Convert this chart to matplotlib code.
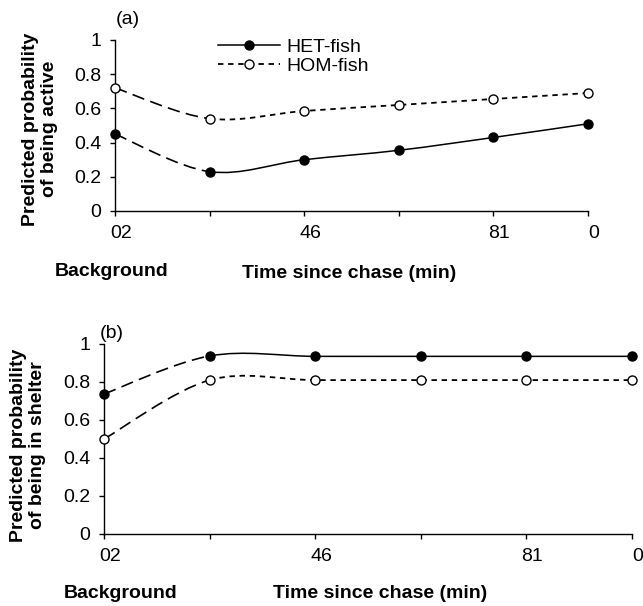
import matplotlib
matplotlib.use('Agg')
import matplotlib.pyplot as plt
import matplotlib.transforms as mtransforms
from matplotlib.path import Path
from matplotlib.patches import PathPatch
from matplotlib.lines import Line2D

plt.rcParams['font.family'] = ['Liberation Sans', 'DejaVu Sans']

# ---------------- data ----------------
categorias = [0, 1, 2, 3, 4, 5]
etiquetasX = ['02', '', '46', '', '81', '0']
etiquetasY = ['0', '0.2', '0.4', '0.6', '0.8', '1']
valoresY = [0, 0.2, 0.4, 0.6, 0.8, 1]

activoHET = [0.45, 0.23, 0.30, 0.355, 0.43, 0.51]
activoHOM = [0.72, 0.54, 0.585, 0.62, 0.655, 0.69]

refugioHET = [0.737, 0.937, 0.935, 0.935, 0.935, 0.935]
refugioHOM = [0.50, 0.81, 0.81, 0.81, 0.81, 0.81]

FS = 14
W, H = 643, 606


def suave(xs, ys, i0, i1):
    # curva suavizada tipo Excel (Catmull-Rom -> Bezier)
    n = len(xs)
    verts = [(xs[i0], ys[i0])]
    codes = [Path.MOVETO]
    for i in range(i0, i1):
        a = max(i - 1, 0)
        b = min(i + 2, n - 1)
        c1 = (xs[i] + (xs[i + 1] - xs[a]) / 6.0, ys[i] + (ys[i + 1] - ys[a]) / 6.0)
        c2 = (xs[i + 1] - (xs[b] - xs[i]) / 6.0, ys[i + 1] - (ys[b] - ys[i]) / 6.0)
        verts += [c1, c2, (xs[i + 1], ys[i + 1])]
        codes += [Path.CURVE4] * 3
    return Path(verts, codes)


def panel(ax, het, hom):
    n = len(categorias)
    larga = (0, (7.5, 3.8))
    punto = (0, (3.0, 2.6))
    ax.add_patch(PathPatch(suave(categorias, het, 0, 1), fill=False, lw=1.2,
                           linestyle=larga, edgecolor='black'))
    ax.add_patch(PathPatch(suave(categorias, hom, 0, 1), fill=False, lw=1.2,
                           linestyle=larga, edgecolor='black'))
    ax.add_patch(PathPatch(suave(categorias, het, 1, n - 1), fill=False, lw=1.1,
                           linestyle='-', edgecolor='black'))
    ax.add_patch(PathPatch(suave(categorias, hom, 1, n - 1), fill=False, lw=1.3,
                           linestyle=punto, edgecolor='black'))
    ax.plot(categorias, het, 'o', color='black', markersize=6.5, zorder=5, clip_on=False)
    ax.plot(categorias, hom, 'o', markerfacecolor='white', markeredgecolor='black',
            markeredgewidth=1.0, markersize=6.5, zorder=5, clip_on=False)
    ax.set_xlim(0, 5)
    ax.set_ylim(0, 1)
    ax.set_xticks(categorias)
    ax.set_xticklabels(etiquetasX)
    ax.set_yticks(valoresY)
    ax.set_yticklabels(etiquetasY)
    for s in ['top', 'right']:
        ax.spines[s].set_visible(False)
    for s in ['left', 'bottom']:
        ax.spines[s].set_linewidth(1.0)
    ax.tick_params(direction='out', length=3.8, width=1.0, labelsize=FS)
    ax.tick_params(axis='y', pad=6.0)
    ax.tick_params(axis='x', pad=6.5)
    desplaza = mtransforms.ScaledTranslation(0.06, 0, ax.figure.dpi_scale_trans)
    for lab in ax.get_xticklabels():
        lab.set_transform(lab.get_transform() + desplaza)


def fx(px):
    return px / W


def fy(py):
    return 1 - py / H


fig = plt.figure(figsize=(6.43, 6.06), dpi=100)

axA = fig.add_axes([fx(115), fy(211), fx(588) - fx(115), fy(40) - fy(211)])
panel(axA, activoHET, activoHOM)

axB = fig.add_axes([fx(104), fy(534), fx(632) - fx(104), fy(344) - fy(534)])
panel(axB, refugioHET, refugioHOM)

# leyenda
hHET = Line2D([], [], color='black', lw=1.1, marker='o', markersize=6.5)
hHOM = Line2D([], [], color='black', lw=1.3, linestyle=(0, (3.0, 2.6)), marker='o',
              markerfacecolor='white', markeredgecolor='black', markersize=6.5)
axA.legend([hHET, hHOM], ['HET-fish', 'HOM-fish'], loc='upper left',
           bbox_to_anchor=((218 - 115) / 473, (211 - 38) / 171), frameon=False,
           fontsize=FS, handlelength=3.2, handletextpad=0.3, labelspacing=0.1,
           borderpad=0, borderaxespad=0, numpoints=1)

# textos
fig.text(fx(128), fy(20), '(a)', fontsize=FS, ha='center', va='center')
fig.text(fx(112), fy(333), '(b)', fontsize=FS, ha='center', va='center')

fig.text(fx(40), fy(129), 'Predicted probability\nof being active', rotation=90,
         fontsize=FS, fontweight='bold', ha='center', va='center', linespacing=1.15)
fig.text(fx(28), fy(445), 'Predicted probability\nof being in shelter', rotation=90,
         fontsize=FS, fontweight='bold', ha='center', va='center', linespacing=1.15)

fig.text(fx(112), fy(272), 'Background', fontsize=FS, fontweight='bold', ha='center', va='center')
fig.text(fx(349), fy(273), 'Time since chase (min)', fontsize=FS, fontweight='bold',
         ha='center', va='center')
fig.text(fx(121), fy(594), 'Background', fontsize=FS, fontweight='bold', ha='center', va='center')
fig.text(fx(380), fy(593), 'Time since chase (min)', fontsize=FS, fontweight='bold',
         ha='center', va='center')

plt.savefig('out.png', dpi=100)
